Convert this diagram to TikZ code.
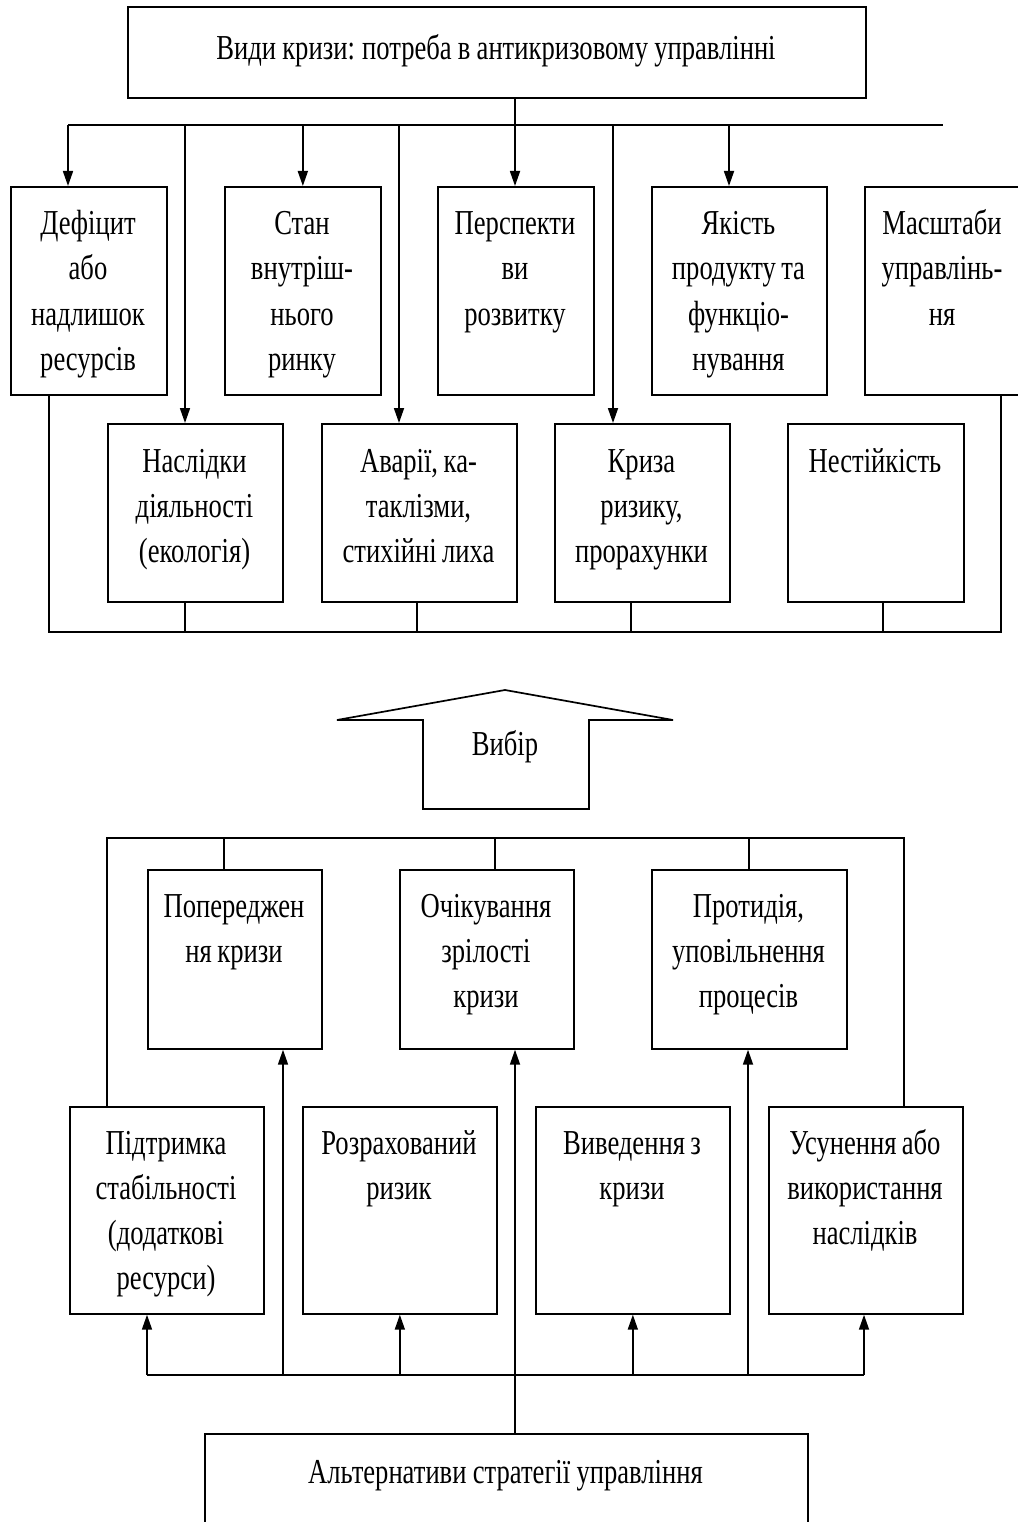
\documentclass[tikz,border=0pt]{standalone}
\usepackage{fontspec}
\setmainfont{Liberation Serif}[FakeStretch=0.76]
\usetikzlibrary{arrows.meta,calc}
\newcommand{\boxfont}{\fontsize{35}{45}\selectfont}
\begin{document}
\begin{tikzpicture}[x=1pt,y=-1pt,
  box/.style={draw, line width=1.7pt, inner sep=0pt, anchor=north west},
  txt/.style={anchor=base, align=center, inner sep=0pt, font=\boxfont,
    execute at begin node={\spaceskip=5pt plus 1pt minus 1pt\xspaceskip=6pt plus 1pt minus 1pt\relax}},
  ln/.style={line width=1.7pt},
  arr/.style={line width=1.7pt, -{Triangle[length=15pt,width=10pt]}},
  bigarrow/.style={draw, line width=1.7pt, line join=miter}
]
\useasboundingbox (0,0) rectangle (1017,1522);
\fill[white] (0,0) rectangle (1017,1522);

% title
\node[box, minimum width=738pt, minimum height=91pt] (title) at (127,6) {};
\node[txt, text width=730pt] (titlet) at (496,60) {Види кризи: потреба в антикризовому управлінні};

% row 1
\node[box, minimum width=156pt, minimum height=208pt] (d1) at (10,186) {};
\node[box, minimum width=156pt, minimum height=208pt] (d2) at (224,186) {};
\node[box, minimum width=156pt, minimum height=208pt] (d3) at (437,186) {};
\node[box, minimum width=175pt, minimum height=208pt] (d4) at (651,186) {};
\node[box, minimum width=156pt, minimum height=208pt] (d5) at (864,186) {};
\node[txt, text width=150pt] (d1t) at (88,235) {Дефіцит\\або\\надлишок\\ресурсів};
\node[txt, text width=150pt] (d2t) at (302,235) {Стан\\внутріш-\\нього\\ринку};
\node[txt, text width=150pt] (d3t) at (515,235) {Перспекти\\ви\\розвитку};
\node[txt, text width=170pt] (d4t) at (738.5,235) {Якість\\продукту та\\функціо-\\нування};
\node[txt, text width=150pt] (d5t) at (942,235) {Масштаби\\управлінь-\\ня};

% row 2
\node[box, minimum width=175pt, minimum height=178pt] (n1) at (107,423) {};
\node[box, minimum width=195pt, minimum height=178pt] (n2) at (321,423) {};
\node[box, minimum width=175pt, minimum height=178pt] (n3) at (554,423) {};
\node[box, minimum width=176pt, minimum height=178pt] (n4) at (787,423) {};
\node[txt, text width=170pt] (n1t) at (194.5,472) {Наслідки\\діяльності\\(екологія)};
\node[txt, text width=190pt] (n2t) at (418.5,472) {Аварії, ка-\\таклізми,\\стихійні лиха};
\node[txt, text width=170pt] (n3t) at (641.5,472) {Криза\\ризику,\\прорахунки};
\node[txt, text width=170pt] (n4t) at (875,472) {Нестійкість};

% top distribution bus
\coordinate (tb1) at (68,125);
\coordinate (tb2) at (943,125);
\coordinate (a2) at (185,125);
\coordinate (a3) at (515,125);
\coordinate (a4) at (399,125);
\coordinate (a6) at (613,125);
\coordinate (a7) at (729,125);
\draw[ln, line width=2pt] (tb1) -- (tb2);
\draw[arr] (a3 |- title.south) -- (a3 |- d3.north);
\draw[arr] (tb1) -- (tb1 |- d1.north);
\draw[arr] (d2.north |- tb1) -- (d2.north);
\draw[arr] (a7) -- (a7 |- d4.north);
\draw[arr] (a2) -- (a2 |- n1.north);
\draw[arr] (a4) -- (a4 |- n2.north);
\draw[arr] (a6) -- (a6 |- n3.north);

% bottom collector of the upper part
\coordinate (bb1) at (49,632);
\coordinate (bb2) at (1001,632);
\coordinate (c2) at (417,632);
\coordinate (c3) at (631,632);
\coordinate (c4) at (883,632);
\draw[ln] (bb1 |- d1.south) -- (bb1) -- (bb2) -- (bb2 |- d5.south);
\draw[ln] (a2 |- n1.south) -- (a2 |- bb1);
\draw[ln] (c2 |- n2.south) -- (c2);
\draw[ln] (c3 |- n3.south) -- (c3);
\draw[ln] (c4 |- n4.south) -- (c4);

% big arrow "Вибір"
\draw[bigarrow] (337,720) -- (505,690) -- (673,720) -- (589,720) -- (589,809) -- (423,809) -- (423,720) -- cycle;
\node[txt, text width=150pt] (choice) at (505,755) {Вибір};

% row 3
\node[box, minimum width=174pt, minimum height=179pt] (p1) at (147,869) {};
\node[box, minimum width=174pt, minimum height=179pt] (p2) at (399,869) {};
\node[box, minimum width=195pt, minimum height=179pt] (p3) at (651,869) {};
\node[txt, text width=170pt] (p1t) at (234,917) {Попереджен\\ня кризи};
\node[txt, text width=170pt] (p2t) at (486,917) {Очікування\\зрілості\\кризи};
\node[txt, text width=190pt] (p3t) at (748.5,917) {Протидія,\\уповільнення\\процесів};

% row 4
\node[box, minimum width=194pt, minimum height=207pt] (s1) at (69,1106) {};
\node[box, minimum width=194pt, minimum height=207pt] (s2) at (302,1106) {};
\node[box, minimum width=194pt, minimum height=207pt] (s3) at (535,1106) {};
\node[box, minimum width=194pt, minimum height=207pt] (s4) at (768,1106) {};
\node[txt, text width=190pt] (s1t) at (166,1154) {Підтримка\\стабільності\\(додаткові\\ресурси)};
\node[txt, text width=190pt] (s2t) at (399,1154) {Розрахований\\ризик};
\node[txt, text width=190pt] (s3t) at (632,1154) {Виведення з\\кризи};
\node[txt, text width=190pt] (s4t) at (865,1154) {Усунення або\\використання\\наслідків};

% bottom box
\node[box, minimum width=603pt, minimum height=96pt] (alt) at (204,1433) {};
\node[txt, text width=590pt] (altt) at (505.5,1483) {Альтернативи стратегії управління};

% upper bus of the lower part
\coordinate (ub1) at (107,838);
\coordinate (ub2) at (904,838);
\coordinate (u1) at (224,838);
\coordinate (u2) at (495,838);
\coordinate (u3) at (749,838);
\draw[ln] (ub1 |- s1.north) -- (ub1) -- (ub2) -- (ub2 |- s4.north);
\draw[ln] (u1) -- (u1 |- p1.north);
\draw[ln] (u2) -- (u2 |- p2.north);
\draw[ln] (u3) -- (u3 |- p3.north);

% lower bus
\coordinate (lb1) at (147,1375);
\coordinate (lb2) at (864,1375);
\coordinate (l1) at (283,1375);
\coordinate (l3) at (748,1375);
\coordinate (l2) at (515,1375);
\draw[ln] (lb1) -- (lb2);
\draw[arr] (lb1) -- (lb1 |- s1.south);
\draw[arr] (s2.south |- lb1) -- (s2.south);
\draw[arr] (s3.south |- lb1) -- (s3.south);
\draw[arr] (lb2) -- (lb2 |- s4.south);
\draw[arr] (l1) -- (l1 |- p1.south);
\draw[arr] (l3) -- (l3 |- p3.south);
\draw[arr] (l2 |- alt.north) -- (l2 |- p2.south);
\end{tikzpicture}
\end{document}
